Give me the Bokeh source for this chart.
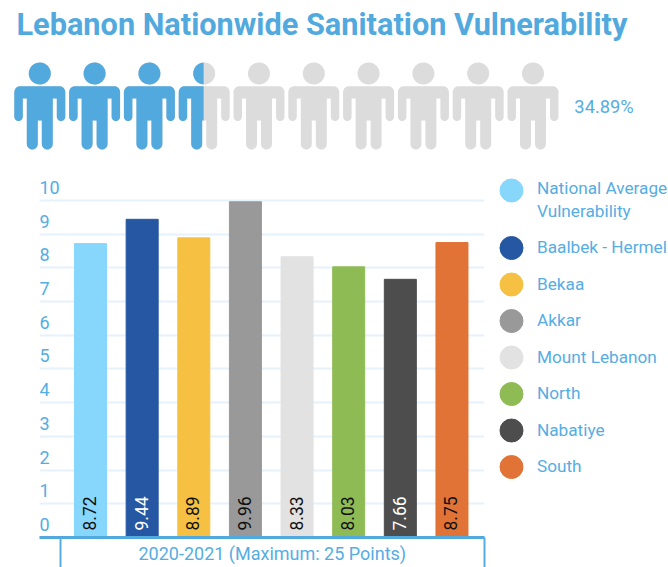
import numpy as np
from bokeh.plotting import figure
from bokeh.layouts import column, row, Spacer
from bokeh.models import Range1d, FixedTicker, LinearAxis, ColumnDataSource, Label
from bokeh.core.properties import value
from bokeh.embed import file_html
from bokeh.resources import INLINE

title_text = "Lebanon Nationwide Sanitation Vulnerability"
national_share = 34.89
people_count = 10
regions = ["National Average Vulnerability", "Baalbek - Hermel", "Bekaa", "Akkar",
           "Mount Lebanon", "North", "Nabatiye", "South"]
scores = [8.72, 9.44, 8.89, 9.96, 8.33, 8.03, 7.66, 8.75]
bar_colors = ["#87D7FC", "#2557A2", "#F6C142", "#999999", "#E2E2E2", "#8FBB55", "#4D4D4D", "#E07335"]
label_colors = ["#111111", "#FFFFFF", "#111111", "#111111", "#111111", "#111111", "#FFFFFF", "#111111"]
y_ticks = [0, 1, 2, 3, 4, 5, 6, 7, 8, 9, 10]
y_title = "Average Sanitation Vulnerability Score"
group_label = "2020-2021 (Maximum: 25 Points)"

BLUE = "#52A9DE"
TEXT = "#55ADE3"
GREY = "#DCDCDC"
GRID = "#E6F2FB"
FONT = "Roboto"


def arc(cx, cy, r, a0, a1, n=10):
    t = np.radians(np.linspace(a0, a1, n))
    return list(zip(cx + r * np.cos(t), cy + r * np.sin(t)))


def person_shapes():
    u = 1 / 54.8
    w, ai, to, gap = 25.5, 17.0, 13.0, 2.0
    top, pit, arm, crotch, foot = 12.7, 25.0, 47.5, 47.0, 76.0
    r, ra = 6.0, (w - ai) / 2
    rl = (to - gap) / 2
    pts = []
    pts += arc(-w + r, top + r, r, 180, 270)
    pts += arc(w - r, top + r, r, 270, 360)
    pts += arc(w - ra, arm - ra, ra, 0, 180)
    pts += [(ai, pit), (to, pit)]
    pts += arc(gap + rl, foot - rl, rl, 0, 180)
    pts += [(gap, crotch), (-gap, crotch)]
    pts += arc(-gap - rl, foot - rl, rl, 0, 180)
    pts += [(-to, pit), (-ai, pit)]
    pts += arc(-w + ra, arm - ra, ra, 0, 180)
    return np.array(arc(0, 0, 11, 0, 360, 48)) * u, np.array(pts) * u


def clip_right(poly, xmax):
    out = []
    for i in range(len(poly)):
        a, b = poly[i], poly[(i + 1) % len(poly)]
        ina, inb = a[0] <= xmax, b[0] <= xmax
        if ina:
            out.append(a)
        if ina != inb:
            t = (xmax - a[0]) / (b[0] - a[0])
            out.append(a + t * (b - a))
    return np.array(out)


# ---------- header: title + pictogram ----------
head = figure(frame_width=668, frame_height=134, output_backend="svg", toolbar_location=None,
              x_range=Range1d(-0.717, -0.717 + 668 / 54.8), y_range=Range1d(102 / 54.8, -32 / 54.8),
              min_border=0, outline_line_color=None)
head.axis.visible = False
head.grid.visible = False
head.title.text = title_text
head.title.text_font = FONT
head.title.text_font_style = "bold"
head.title.text_font_size = "30.7px"
head.title.text_color = BLUE
head.title.offset = 16
head.title.standoff = 0

h_shape, b_shape = person_shapes()
fill_edge = national_share / 100 * people_count
xs_g, ys_g, xs_b, ys_b = [], [], [], []
for i in range(people_count):
    left_edge = i - 25.5 / 54.8
    frac = fill_edge - i
    for shape in (h_shape, b_shape):
        xs_g.append(shape[:, 0] + i)
        ys_g.append(shape[:, 1])
        if frac >= 1:
            xs_b.append(shape[:, 0] + i)
            ys_b.append(shape[:, 1])
        elif frac > 0:
            c = clip_right(shape + np.array([i, 0.0]), left_edge + frac * 51 / 54.8)
            if len(c):
                xs_b.append(c[:, 0])
                ys_b.append(c[:, 1])
head.patches(xs_g, ys_g, fill_color=GREY, line_color=None)
head.patches(xs_b, ys_b, fill_color=BLUE, line_color=None)
head.text(x=[people_count - 0.245], y=[0.6], text=[f"{national_share}%"], text_font=value(FONT),
          text_font_size="18.3px", text_color=TEXT, text_baseline="middle", text_align="left")

# ---------- bar chart ----------
idx = list(range(len(scores)))
p = figure(frame_width=445, frame_height=362, output_backend="svg", toolbar_location=None,
           x_range=Range1d(-0.988, 7.63), y_range=Range1d(0, 10.74),
           min_border_left=39, min_border_right=6, min_border_top=0, min_border_bottom=30,
           outline_line_color=None, y_axis_location=None, x_axis_location=None)
src = ColumnDataSource(dict(x=idx, top=scores, color=bar_colors, lab=[f"{v:.2f}" for v in scores],
                            lc=label_colors, base=[0] * len(scores)))
p.vbar(x="x", top="top", width=0.62, color="color", source=src)
p.text(x="x", y="base", text="lab", angle=np.pi / 2, text_align="left", text_baseline="middle",
       text_color="lc", text_font=value(FONT), text_font_size="17.5px", x_offset=-1, y_offset=-7, source=src)

xa = LinearAxis(ticker=FixedTicker(ticks=[3.52], minor_ticks=[-0.58, 7.63]),
                major_label_overrides={3.52: group_label},
                major_tick_line_color=None, major_tick_out=0, major_tick_in=0,
                minor_tick_out=30, minor_tick_in=0, minor_tick_line_color=TEXT, minor_tick_line_width=2,
                axis_line_color=BLUE, axis_line_width=3,
                major_label_text_font=FONT, major_label_text_font_size="18px",
                major_label_text_color=TEXT, major_label_standoff=-25)
p.add_layout(xa, "below")

p.ygrid.ticker = FixedTicker(ticks=y_ticks)
p.ygrid.grid_line_color = GRID
p.ygrid.grid_line_width = 2
p.xgrid.visible = False
p.text(x=[-0.988] * len(y_ticks), y=y_ticks, text=[str(t) for t in y_ticks], text_font=value(FONT),
       text_font_size="18px", text_color=TEXT, text_baseline="middle", text_align="left",
       x_offset=0, y_offset=-13)

p.add_layout(Label(x=-21, y=5.37, x_units="screen", y_units="data", text=y_title, angle=np.pi / 2,
                   text_font=FONT, text_font_size="19.1px", text_color=TEXT,
                   text_align="center", text_baseline="middle"))

# ---------- legend ----------
leg = figure(frame_width=178, frame_height=392, output_backend="svg", toolbar_location=None,
             x_range=Range1d(0, 178), y_range=Range1d(392, 0), min_border=0, outline_line_color=None)
leg.axis.visible = False
leg.grid.visible = False
cy = [15] + [72.5 + 36.5 * i for i in range(len(regions) - 1)]
leg.scatter(x=[21] * len(cy), y=cy, size=23, color=bar_colors, marker="circle")
lines, ly = [], []
for name, c in zip(regions, cy):
    if name.startswith("National"):
        lines += ["National Average", "Vulnerability"]
        ly += [c - 3, c + 20]
    else:
        lines.append(name)
        ly.append(c - 1)
leg.text(x=[46.5] * len(lines), y=ly, text=lines, text_font=value(FONT), text_font_size="17.2px",
         text_color=TEXT, text_baseline="middle", text_align="left")

layout = column(Spacer(width=668, height=4), head, row(p, leg, spacing=0), spacing=0)
open("out.html", "w").write(file_html(layout, INLINE))
